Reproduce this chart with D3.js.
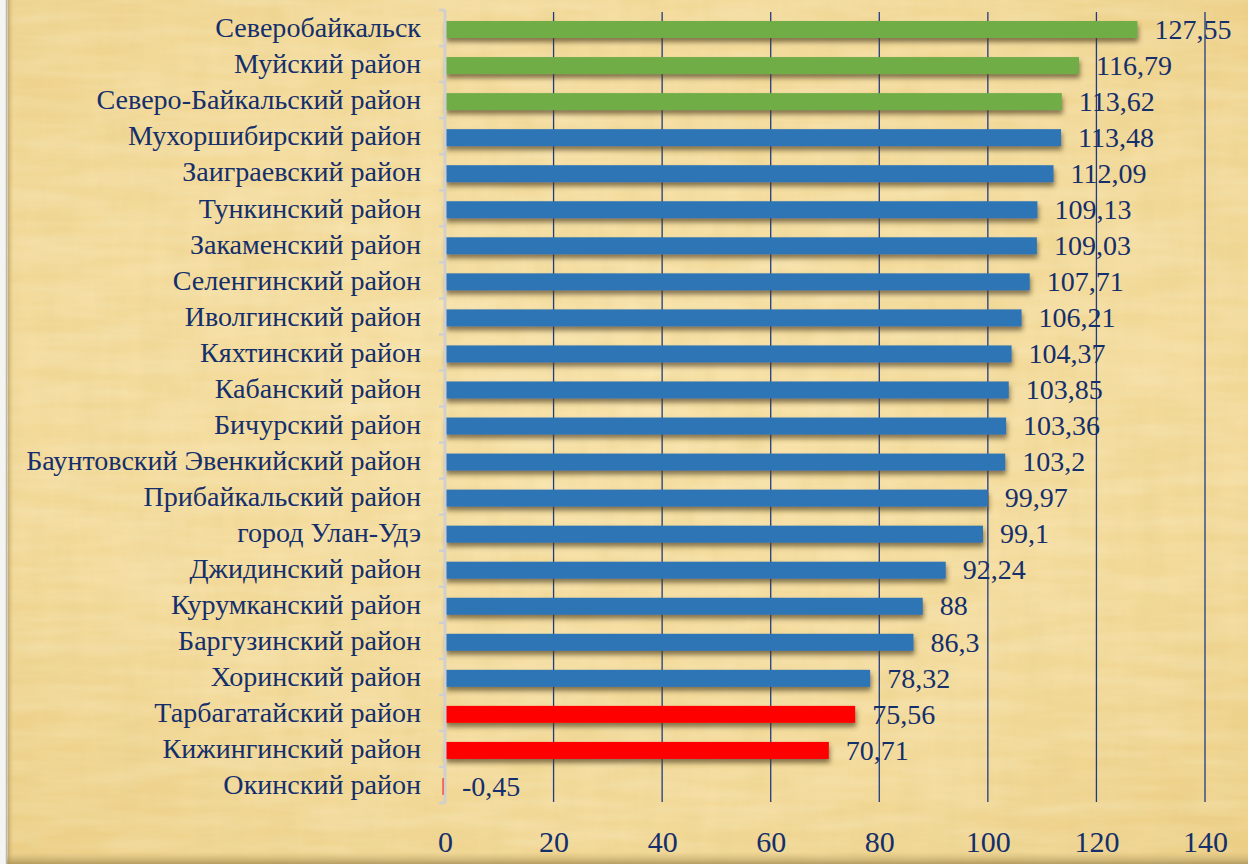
<!DOCTYPE html>
<html>
<head>
<meta charset="utf-8">
<script src="https://cdn.jsdelivr.net/npm/d3@7"></script>
<style>
  html, body { margin: 0; padding: 0; background: #fff; }
  svg { display: block; }
</style>
</head>
<body>
<script>
// chart data
const districts = [
  'Северобайкальск',
  'Муйский район',
  'Северо-Байкальский район',
  'Мухоршибирский район',
  'Заиграевский район',
  'Тункинский район',
  'Закаменский район',
  'Селенгинский район',
  'Иволгинский район',
  'Кяхтинский район',
  'Кабанский район',
  'Бичурский район',
  'Баунтовский Эвенкийский район',
  'Прибайкальский район',
  'город Улан-Удэ',
  'Джидинский район',
  'Курумканский район',
  'Баргузинский район',
  'Хоринский район',
  'Тарбагатайский район',
  'Кижингинский район',
  'Окинский район'
]
const values = [127.55, 116.79, 113.62, 113.48, 112.09, 109.13, 109.03, 107.71, 106.21, 104.37,
  103.85, 103.36, 103.2, 99.97, 99.1, 92.24, 88, 86.3, 78.32, 75.56, 70.71, -0.45]
// group of each district: top, middle, bottom
const groups = ['top', 'top', 'top', 'mid', 'mid', 'mid', 'mid', 'mid', 'mid', 'mid', 'mid',
  'mid', 'mid', 'mid', 'mid', 'mid', 'mid', 'mid', 'mid', 'low', 'low', 'low']
const xTicks = [0, 20, 40, 60, 80, 100, 120, 140]

const groupColor = { top: '#70ad47', mid: '#2e75b6', low: '#ff0000' }
const textColor = '#142f6b'
const serif = '"Liberation Serif", Tinos, "Times New Roman", "Noto Serif", "DejaVu Serif", serif'

const width = 1248, height = 864

const svg = d3.select('body').append('svg')
  .attr('width', width)
  .attr('height', height)

const defs = svg.append('defs')

// parchment look: warm gradient + fibrous noise
const grad = defs.append('radialGradient').attr('id', 'paper')
  .attr('cx', '50%').attr('cy', '45%').attr('r', '75%')
grad.append('stop').attr('offset', '0%').attr('stop-color', '#f8e2a8')
grad.append('stop').attr('offset', '65%').attr('stop-color', '#f3d998')
grad.append('stop').attr('offset', '100%').attr('stop-color', '#ebcd82')

const fiber = defs.append('filter').attr('id', 'fiber')
  .attr('x', 0).attr('y', 0).attr('width', '100%').attr('height', '100%')
fiber.append('feTurbulence')
  .attr('type', 'fractalNoise')
  .attr('baseFrequency', '0.05 0.01')
  .attr('numOctaves', 3)
  .attr('seed', 7)
  .attr('result', 'noise')
fiber.append('feColorMatrix')
  .attr('in', 'noise')
  .attr('type', 'matrix')
  .attr('values', '0 0 0 0 0.78  0 0 0 0 0.62  0 0 0 0 0.25  0 0 0 0.55 -0.15')

const fiber2 = defs.append('filter').attr('id', 'fiber2')
  .attr('x', 0).attr('y', 0).attr('width', '100%').attr('height', '100%')
fiber2.append('feTurbulence')
  .attr('type', 'fractalNoise')
  .attr('baseFrequency', '0.01 0.07')
  .attr('numOctaves', 3)
  .attr('seed', 3)
  .attr('result', 'noise')
fiber2.append('feColorMatrix')
  .attr('in', 'noise')
  .attr('type', 'matrix')
  .attr('values', '0 0 0 0 1  0 0 0 0 0.95  0 0 0 0 0.78  0 0 0 0.4 -0.12')

const shadow = defs.append('filter').attr('id', 'barShadow')
  .attr('x', '-5%').attr('y', '-50%').attr('width', '110%').attr('height', '250%')
shadow.append('feDropShadow')
  .attr('dx', 1).attr('dy', 4)
  .attr('stdDeviation', 2.5)
  .attr('flood-color', '#4a3b1c')
  .attr('flood-opacity', 0.65)

// background
svg.append('rect').attr('width', width).attr('height', height).attr('fill', '#f4f4f2')
svg.append('rect').attr('x', 7).attr('width', width - 7).attr('height', height).attr('fill', 'url(#paper)')
svg.append('rect').attr('x', 7).attr('width', width - 7).attr('height', height).attr('filter', 'url(#fiber)')
svg.append('rect').attr('x', 7).attr('width', width - 7).attr('height', height).attr('filter', 'url(#fiber2)')

// left edge frame and bottom shade
const edge = defs.append('linearGradient').attr('id', 'edge')
edge.append('stop').attr('offset', '0%').attr('stop-color', '#b9a46c').attr('stop-opacity', 0.9)
edge.append('stop').attr('offset', '100%').attr('stop-color', '#e7cf8e').attr('stop-opacity', 0)
svg.append('rect').attr('x', 8).attr('width', 6).attr('height', height).attr('fill', 'url(#edge)')
svg.append('line').attr('x1', 6.5).attr('x2', 6.5).attr('y1', 0).attr('y2', height)
  .attr('stroke', '#b8b8b8').attr('stroke-width', 1.5)
const bottomEdge = defs.append('linearGradient').attr('id', 'bottomEdge')
  .attr('x1', 0).attr('x2', 0).attr('y1', 0).attr('y2', 1)
bottomEdge.append('stop').attr('offset', '0%').attr('stop-color', '#c8ae6c').attr('stop-opacity', 0)
bottomEdge.append('stop').attr('offset', '100%').attr('stop-color', '#a88f55').attr('stop-opacity', 0.8)
svg.append('rect').attr('x', 7).attr('y', 852).attr('width', width - 7).attr('height', 12)
  .attr('fill', 'url(#bottomEdge)')

// scales
const x = d3.scaleLinear().domain([0, 140]).range([445, 1205])
const y = d3.scaleBand().domain(districts).range([10, 803])

// pick a font size so that a sample string spans the width seen in the picture
const fitSize = (sample, targetWidth) => {
  const t = svg.append('text').attr('font-family', serif).attr('font-size', 100).text(sample)
  const w = t.node().getComputedTextLength()
  t.remove()
  return w > 0 ? 100 * targetWidth / w : 24
}
const catSize = fitSize('Баунтовский Эвенкийский район', 395)
const valSize = fitSize('127,55', 77)
const tickSize = fitSize('140', 45)

// vertical gridlines
svg.append('g')
  .selectAll('line')
  .data(xTicks.filter(t => t > 0))
  .join('line')
  .attr('x1', d => x(d)).attr('x2', d => x(d))
  .attr('y1', 12).attr('y2', 802)
  .attr('stroke', '#1f3b82')
  .attr('stroke-width', 1.3)

// bars
const barH = 17
svg.append('g')
  .selectAll('rect')
  .data(districts)
  .join('rect')
  .attr('x', (d, i) => x(Math.min(0, values[i])))
  .attr('y', d => y(d) + y.bandwidth() / 2 - barH / 2 + 1.5)
  .attr('width', (d, i) => Math.abs(x(values[i]) - x(0)))
  .attr('height', barH)
  .attr('fill', (d, i) => groupColor[groups[i]])
  .attr('filter', (d, i) => values[i] > 0 ? 'url(#barShadow)' : null)

// category axis (light grey with bracket ticks)
const yAxis = svg.append('g').attr('transform', `translate(${x(0)},0)`)
yAxis.append('line')
  .attr('x1', 0).attr('x2', 0)
  .attr('y1', y.range()[0]).attr('y2', y.range()[1])
  .attr('stroke', '#cfcfcf').attr('stroke-width', 3)
yAxis.selectAll('.tick')
  .data(d3.range(districts.length + 1))
  .join('line')
  .attr('class', 'tick')
  .attr('x1', -6).attr('x2', 0)
  .attr('y1', i => y.range()[0] + i * y.step())
  .attr('y2', i => y.range()[0] + i * y.step())
  .attr('stroke', '#cfcfcf').attr('stroke-width', 2.5)

// category labels
svg.append('g')
  .selectAll('text')
  .data(districts)
  .join('text')
  .attr('x', 421)
  .attr('y', d => y(d) + y.bandwidth() / 2)
  .attr('dy', '0.33em')
  .attr('text-anchor', 'end')
  .attr('font-family', serif)
  .attr('font-size', catSize)
  .attr('fill', textColor)
  .text(d => d)

// value labels
svg.append('g')
  .selectAll('text')
  .data(districts)
  .join('text')
  .attr('x', (d, i) => x(Math.max(0, values[i])) + 17)
  .attr('y', d => y(d) + y.bandwidth() / 2 + 1.5)
  .attr('dy', '0.33em')
  .attr('font-family', serif)
  .attr('font-size', valSize)
  .attr('fill', textColor)
  .text((d, i) => String(values[i]).replace('.', ','))

// x axis tick labels
const xAxis = d3.axisBottom(x).tickValues(xTicks).tickSize(0).tickPadding(0)
const xg = svg.append('g').attr('transform', 'translate(0,842)').call(xAxis)
xg.select('.domain').remove()
xg.selectAll('text')
  .attr('dy', '0.33em')
  .attr('font-family', serif)
  .attr('font-size', tickSize)
  .attr('fill', textColor)
</script>
</body>
</html>
